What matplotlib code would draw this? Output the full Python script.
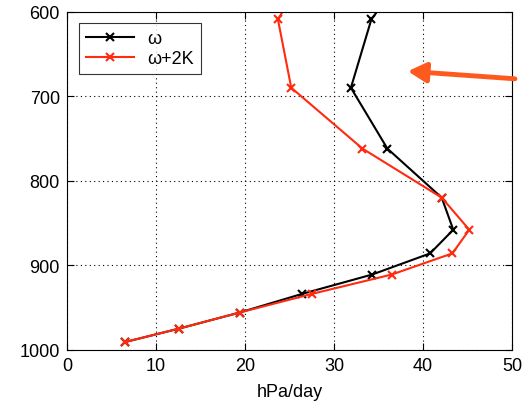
import matplotlib
matplotlib.use("Agg")
import matplotlib.pyplot as plt
import numpy as np

plt.rcParams['font.family'] = ['Liberation Sans', 'DejaVu Sans']

# niveaux de pression (hPa)
p_levels = [530, 609, 690, 762, 820, 858, 886, 911, 934, 956, 975, 991]

# omega (hPa/day)
omega = [39.8, 34.2, 31.9, 36.0, 42.1, 43.4, 40.8, 34.3, 26.4, 19.4, 12.6, 6.5]
omega_2k = [28.3, 23.7, 25.2, 33.2, 42.1, 45.2, 43.3, 36.5, 27.5, 19.4, 12.6, 6.5]

x_ticks = [0, 10, 20, 30, 40, 50]
y_ticks = [600, 700, 800, 900, 1000]

fig = plt.figure(figsize=(5.23, 4.10), dpi=100)
ax = fig.add_axes([0.128, 0.1446, 0.851, 0.8244])

ax.plot(omega, p_levels, color='black', marker='x', markersize=6,
        markeredgewidth=1.5, lw=1.5, label='ω')
ax.plot(omega_2k, p_levels, color='#ff2a10', marker='x', markersize=6,
        markeredgewidth=1.5, lw=1.5, label='ω+2K')

ax.set_xlim(0, 50)
ax.set_ylim(1000, 600)
ax.set_xticks(x_ticks)
ax.set_yticks(y_ticks)
ax.tick_params(direction='in', top=True, right=True, labelsize=13, length=5, pad=5)
ax.grid(True, color='black', linestyle=(0, (1, 3)), lw=0.8)
ax.set_xlabel('hPa/day', fontsize=13, labelpad=7)

leg = ax.legend(loc='upper left', bbox_to_anchor=(0.026, 0.966), fontsize=13,
                frameon=True, fancybox=False, edgecolor='black',
                handlelength=2.7, handletextpad=0.7, borderpad=0.4,
                labelspacing=0.15, borderaxespad=0)
leg.get_frame().set_linewidth(0.8)

# fleche
fig.patches.append(matplotlib.patches.FancyArrowPatch(
    (517.7 / 523, 1 - 80 / 410), (405 / 523, 1 - 72 / 410),
    transform=fig.transFigure, arrowstyle='-|>,head_length=0.55,head_width=0.3',
    mutation_scale=20, color='#ff5a1e', lw=3.5))

fig.savefig('out.png', dpi=100)
